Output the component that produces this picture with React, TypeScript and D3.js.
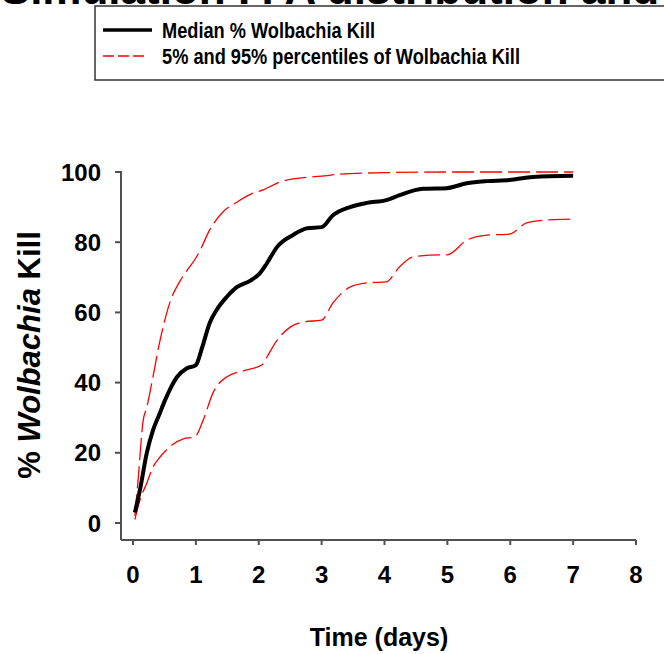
import React from 'react';
import * as d3 from 'd3';

const medianT = [0.03, 0.11, 0.22, 0.32, 0.42, 0.51, 0.6, 0.7, 0.85, 1.0, 1.1, 1.22, 1.33, 1.49, 1.65, 1.86, 2.02, 2.13, 2.29, 2.54, 2.77, 3.0, 3.18, 3.45, 3.72, 4.03, 4.24, 4.61, 4.99, 5.31, 5.63, 5.99, 6.36, 7.0];
const medianV = [3, 9.4, 20, 26.5, 31, 35, 38.5, 41.6, 44, 45, 50, 57, 60.7, 64.4, 67.2, 69, 71.2, 74, 78.6, 82, 84, 84.3, 87.7, 90, 91.2, 92, 93.4, 95.2, 95.4, 96.8, 97.4, 97.7, 98.6, 98.9];

const upperT = [0.03, 0.08, 0.16, 0.22, 0.3, 0.43, 0.59, 0.75, 0.86, 1.0, 1.07, 1.22, 1.43, 1.65, 1.91, 2.07, 2.34, 2.61, 3.0, 3.3, 3.97, 5.0, 6.0, 7.0];
const upperV = [2, 12, 29, 33, 40, 52, 63, 69, 72, 75.5, 77.8, 83.5, 88.6, 91.4, 94, 94.9, 97.2, 98.2, 98.8, 99.4, 99.8, 100, 100, 100];

const lowerT = [0.03, 0.11, 0.22, 0.32, 0.43, 0.62, 0.8, 0.98, 1.12, 1.27, 1.49, 1.81, 2.05, 2.13, 2.29, 2.5, 2.71, 3.0, 3.18, 3.45, 3.72, 4.03, 4.24, 4.45, 4.88, 5.0, 5.31, 5.63, 5.99, 6.26, 6.58, 7.0];
const lowerV = [1, 6.5, 11.4, 16, 18.8, 22.2, 24, 24.5, 29.5, 37, 41.6, 43.6, 45, 47.3, 52, 55.8, 57.3, 57.8, 62.7, 67.2, 68.4, 68.7, 73, 75.8, 76.4, 76.4, 80.6, 82, 82.3, 85.5, 86.3, 86.6];

const xTicks = [0, 1, 2, 3, 4, 5, 6, 7, 8];
const yTicks = [0, 20, 40, 60, 80, 100];

const font = "Arial, 'Liberation Sans', sans-serif";

export default function App() {
  const x = d3.scaleLinear().domain([0, 8]).range([133, 636]);
  const y = d3.scaleLinear().domain([0, 100]).range([523, 172]);
  const axisX = 121;
  const axisY = 540;

  const line = d3
    .line<[number, number]>()
    .x((d) => x(d[0]))
    .y((d) => y(d[1]))
    .curve(d3.curveMonotoneX);

  const zip = (t: number[], v: number[]) => t.map((d, i) => [d, v[i]] as [number, number]);

  return (
    <svg width={664} height={654} style={{ position: 'absolute', left: 0, top: 0 }} fontFamily={font}>
      <rect width={664} height={654} fill="#fff" />
      {/* title, cut off at the top of the image */}
      <text x={330} y={4} textAnchor="middle" fontSize={44} fontWeight="bold" fill="#000">
        Simulation P. A distribution and
      </text>

      {/* legend */}
      <rect x={95} y={6} width={620} height={74} fill="#fff" stroke="#333" strokeWidth={1.5} />
      <line x1={103} x2={152} y1={30} y2={30} stroke="#000" strokeWidth={3.5} />
      <text x={162} y={37.5} fontSize={21.5} fontWeight="bold" textLength={213} lengthAdjust="spacingAndGlyphs">
        Median % Wolbachia Kill
      </text>
      <line x1={103} x2={146} y1={56} y2={56} stroke="#ff0000" strokeWidth={1.3} strokeDasharray="11,4" />
      <text x={162} y={63.5} fontSize={21.5} fontWeight="bold" textLength={358} lengthAdjust="spacingAndGlyphs">
        5% and 95% percentiles of Wolbachia Kill
      </text>

      {/* axes */}
      <g stroke="#505050" strokeWidth={2}>
        <line x1={axisX} x2={axisX} y1={y(100) - 1} y2={axisY} />
        <line x1={axisX} x2={x(8)} y1={axisY} y2={axisY} />
        {yTicks.map((t) => (
          <line key={'yt' + t} x1={axisX - 6} x2={axisX} y1={y(t)} y2={y(t)} />
        ))}
        {xTicks.map((t) => (
          <line key={'xt' + t} x1={x(t)} x2={x(t)} y1={axisY} y2={axisY + 5} />
        ))}
      </g>
      {yTicks.map((t) => (
        <text key={'yl' + t} x={101} y={y(t) + 8.5} textAnchor="end" fontSize={24} fontWeight="bold">
          {t}
        </text>
      ))}
      {xTicks.map((t) => (
        <text key={'xl' + t} x={x(t)} y={583} textAnchor="middle" fontSize={24} fontWeight="bold">
          {t}
        </text>
      ))}
      <text x={379} y={646} textAnchor="middle" fontSize={25} fontWeight="bold">
        Time (days)
      </text>
      <text transform="translate(40,355) rotate(-90)" textAnchor="middle" fontSize={31} fontWeight="bold">
        % <tspan fontStyle="italic">Wolbachia</tspan> Kill
      </text>

      {/* curves */}
      <path d={line(zip(upperT, upperV)) || ''} fill="none" stroke="#ff0000" strokeWidth={1.3} strokeDasharray="22,6" />
      <path d={line(zip(lowerT, lowerV)) || ''} fill="none" stroke="#ff0000" strokeWidth={1.3} strokeDasharray="22,6" />
      <path d={line(zip(medianT, medianV)) || ''} fill="none" stroke="#000" strokeWidth={4} />
    </svg>
  );
}
